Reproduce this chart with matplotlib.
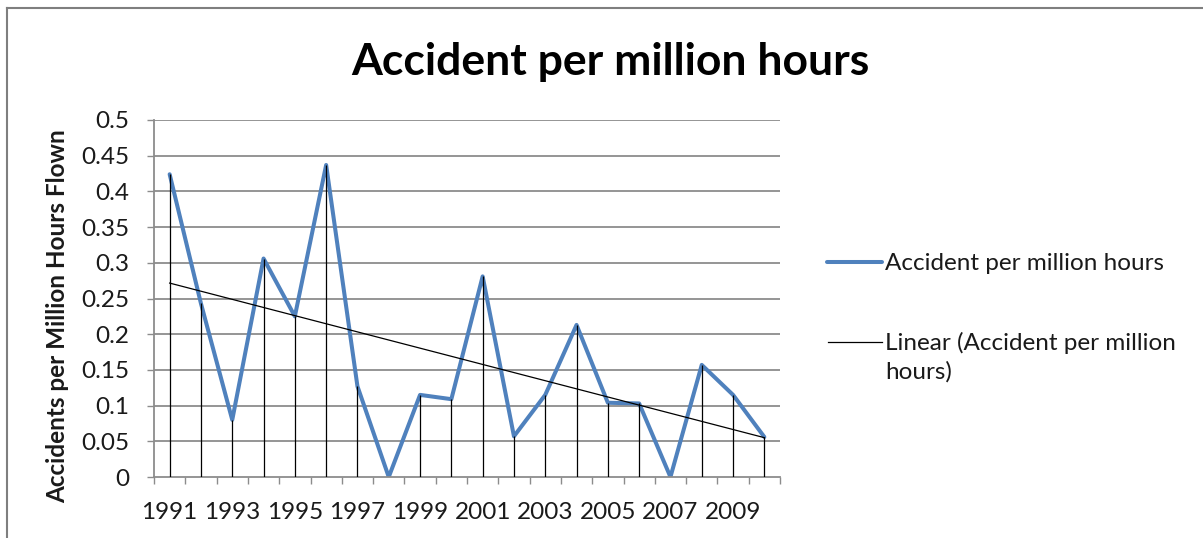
import numpy as np
import matplotlib
matplotlib.use("Agg")
import matplotlib.pyplot as plt
from matplotlib.lines import Line2D

years = list(range(1991, 2011))
accidents = [0.424, 0.243, 0.080, 0.306, 0.225, 0.437, 0.127, 0.000, 0.115, 0.109,
             0.281, 0.057, 0.115, 0.213, 0.104, 0.103, 0.000, 0.157, 0.115, 0.056]
year_labels = [str(y) if (y - 1991) % 2 == 0 else "" for y in years]
yticks = [0, 0.05, 0.1, 0.15, 0.2, 0.25, 0.3, 0.35, 0.4, 0.45, 0.5]
ytick_labels = ["0", "0.05", "0.1", "0.15", "0.2", "0.25", "0.3", "0.35", "0.4", "0.45", "0.5"]

series_name = "Accident per million hours"
trend_name = "Linear (Accident per million\nhours)"

plt.rcParams['font.family'] = ['Lato', 'DejaVu Sans']

W, H = 1203, 538
fig = plt.figure(figsize=(W / 100, H / 100), dpi=100)
ax = fig.add_axes([154 / W, 1 - 477 / H, (780 - 154) / W, (477 - 120) / H])

x = np.arange(len(years))
grid_c = "#8c8c8c"
txt_c = "#1a1a1a"
fs = 17.5

# gridlines
for yv in yticks[1:]:
    ax.axhline(yv, color=grid_c, lw=1.3, zorder=1)

# main line
ax.plot(x, accidents, color="#4F81BD", lw=2.9, solid_joinstyle="round",
        solid_capstyle="round", zorder=2)
# drop lines
ax.vlines(x, 0, accidents, colors="black", lw=0.9, zorder=3)
# linear trendline
coef = np.polyfit(x, accidents, 1)
ax.plot(x, np.polyval(coef, x), color="black", lw=0.9, zorder=3)

ax.set_xlim(-0.5, len(years) - 0.5)
ax.set_ylim(0, 0.5)
ax.set_yticks(yticks)
ax.set_yticklabels(ytick_labels)
ax.set_xticks(x)
ax.set_xticklabels(year_labels)
ax.set_xticks(np.arange(-0.5, len(years)), minor=True)
ax.tick_params(axis="x", which="major", length=0, pad=18, labelsize=fs, labelcolor=txt_c)
ax.tick_params(axis="x", which="minor", length=5, width=1, color=grid_c, direction="out")
ax.tick_params(axis="y", length=5, width=1, color=grid_c, pad=12.5, labelsize=fs, labelcolor=txt_c)
for s in ["top", "right"]:
    ax.spines[s].set_visible(False)
for s in ["left", "bottom"]:
    ax.spines[s].set_color(grid_c)
    ax.spines[s].set_linewidth(1.3)

# title and y label
fig.text(610 / W, 1 - 75 / H, series_name, ha="center", va="baseline",
         fontsize=32, fontweight="bold", color="black")
fig.text(58 / W, 1 - 316 / H, "Accidents per Million Hours Flown", ha="center", va="center",
         rotation=90, fontsize=fs, fontweight="bold", color=txt_c)

# legend (manual, Excel style)
tr = fig.transFigure
fig.add_artist(Line2D([827 / W, 882 / W], [1 - 262 / H, 1 - 262 / H], transform=tr,
                      color="#4F81BD", lw=2.9, solid_capstyle="round"))
fig.text(885 / W, 1 - 262 / H, series_name, ha="left", va="center_baseline", fontsize=fs, color=txt_c)
fig.add_artist(Line2D([828 / W, 882 / W], [1 - 342 / H, 1 - 342 / H], transform=tr,
                      color="black", lw=0.9))
fig.text(885 / W, 1 - 357 / H, trend_name, ha="left", va="center", fontsize=fs, color=txt_c,
         linespacing=1.4, transform=tr)

# chart border (top and left edges visible)
fig.add_artist(Line2D([7 / W, 1], [1 - 7.5 / H, 1 - 7.5 / H], transform=tr, color="#7f7f7f", lw=1.5))
fig.add_artist(Line2D([7 / W, 7 / W], [0, 1 - 7.5 / H], transform=tr, color="#7f7f7f", lw=1.5))

fig.savefig("out.png", dpi=100)
